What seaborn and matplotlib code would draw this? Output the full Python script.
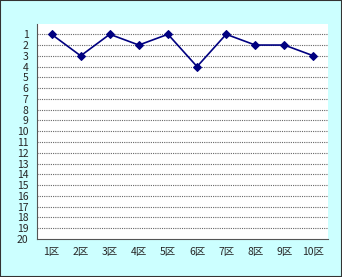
import matplotlib
matplotlib.use("Agg")
import matplotlib.pyplot as plt
import seaborn as sns
import pandas as pd
import numpy as np
from matplotlib.patches import Rectangle

categories = ["1区", "2区", "3区", "4区", "5区", "6区", "7区", "8区", "9区", "10区"]
ranks = [1, 3, 1, 2, 1, 4, 1, 2, 2, 3]
ytick_labels = [str(i) for i in range(1, 21)]

sns.set_style("white")
plt.rcParams['font.family'] = ['Noto Sans CJK JP', 'DejaVu Sans']

df = pd.DataFrame({"pos": np.arange(len(categories)), "rank": ranks})

fig = plt.figure(figsize=(3.42, 2.77), dpi=100)
fig.patch.set_facecolor("#ccffff")
ax = fig.add_axes([37/342, 1-239/277, (328-37)/342, (239-23.5)/277])
ax.set_facecolor("white")

sns.lineplot(data=df, x="pos", y="rank", ax=ax, color="#000080", marker="D",
             markersize=4.5, markeredgecolor="#000080", linewidth=1.2)

ax.set_xlim(-0.5, len(categories) - 0.5)
ax.set_ylim(20, 0)
ax.set_yticks(range(1, 21))
ax.set_yticklabels(ytick_labels, fontsize=7.5)
ax.set_yticks([0], minor=True)
ax.set_xticks(range(len(categories)))
ax.set_xticklabels(categories, fontsize=7.5)
ax.set_xticks(np.arange(-0.5, len(categories), 1), minor=True)
ax.tick_params(axis="x", which="major", length=0, pad=6)
ax.tick_params(axis="x", which="minor", direction="in", length=3, color="#555555")
ax.tick_params(axis="y", which="major", length=0, pad=6)
ax.tick_params(axis="y", which="minor", direction="out", length=3, color="#555555")
ax.set_xlabel("")
ax.set_ylabel("")

for y in range(1, 20):
    ax.axhline(y, color="#666666", linestyle=(0, (1, 1)), linewidth=0.8, zorder=0)

for s in ["top", "right"]:
    ax.spines[s].set_visible(False)
for s in ["left", "bottom"]:
    ax.spines[s].set_color("#555555")
    ax.spines[s].set_linewidth(0.8)

fig.patches.append(Rectangle((0, 0), 1, 1, transform=fig.transFigure,
                             fill=False, edgecolor="#333333", linewidth=1.5))

fig.savefig("out.png", dpi=100, facecolor=fig.get_facecolor())
